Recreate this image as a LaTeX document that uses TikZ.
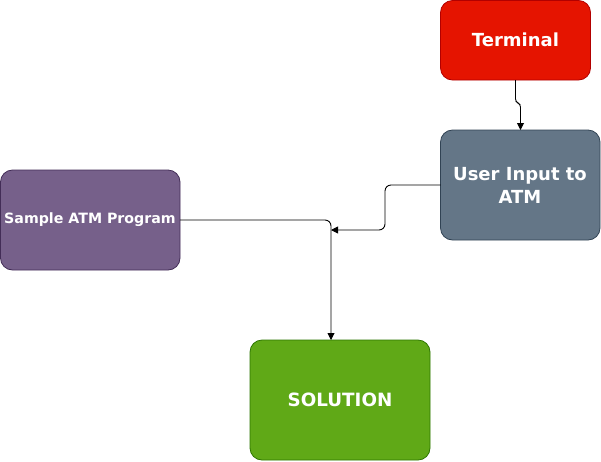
\documentclass[tikz,border=0pt]{standalone}
\usepackage{fontspec}
\setmainfont{DejaVu Sans}
\usetikzlibrary{arrows.meta}
\definecolor{termfill}{HTML}{E51400}\definecolor{termdraw}{HTML}{B20000}
\definecolor{userfill}{HTML}{647687}\definecolor{userdraw}{HTML}{314354}
\definecolor{samplefill}{HTML}{76608A}\definecolor{sampledraw}{HTML}{432D57}
\definecolor{solfill}{HTML}{60A917}\definecolor{soldraw}{HTML}{2D7600}
\tikzset{
  box/.style={rounded corners=12pt, line width=0.8pt},
  lbl/.style={text=white, align=center, inner sep=0pt},
  conn/.style={draw=black, line width=0.9pt, -{Triangle[length=7pt,width=7pt]}, rounded corners=6pt},
}
\begin{document}
\begin{tikzpicture}[x=1pt,y=-1pt]
\useasboundingbox (0,0) rectangle (601,461);
\fill[white] (0,0) rectangle (601,461);
\draw[box, fill=termfill, draw=termdraw] (440.5,0.5) rectangle (590.5,80);
\node[lbl, font=\bfseries\fontsize{18}{21}\selectfont] (term) at (515.5,40) {Terminal};
\draw[box, fill=userfill, draw=userdraw] (440.5,130) rectangle (600,240);
\node[lbl, font=\bfseries\fontsize{18}{23}\selectfont] (user) at (520,185) {User Input to\\ATM};
\draw[box, fill=samplefill, draw=sampledraw] (0.5,170) rectangle (180,270);
\node[lbl, font=\bfseries\fontsize{14.2}{17}\selectfont] (sample) at (90,220) {Sample ATM Program};
\draw[box, fill=solfill, draw=soldraw] (250,340) rectangle (430,460);
\node[lbl, font=\bfseries\fontsize{18.3}{22}\selectfont] (sol) at (340,400) {SOLUTION};
\coordinate (termB) at (515.5,80);
\coordinate (userT) at (520.5,130);
\coordinate (userL) at (440.5,185);
\coordinate (sampleR) at (180,220);
\coordinate (solT) at (331,340);
\coordinate (junc) at (331,230);
\draw[conn, rounded corners=3pt] (termB) -- (515.5,102) -- (520.5,104) -- (userT);
\draw[conn] (userL) -- (385,185) -- (385,230) -- (junc);
\draw[conn] (sampleR) -- (331,220) -- (solT);
\end{tikzpicture}
\end{document}
